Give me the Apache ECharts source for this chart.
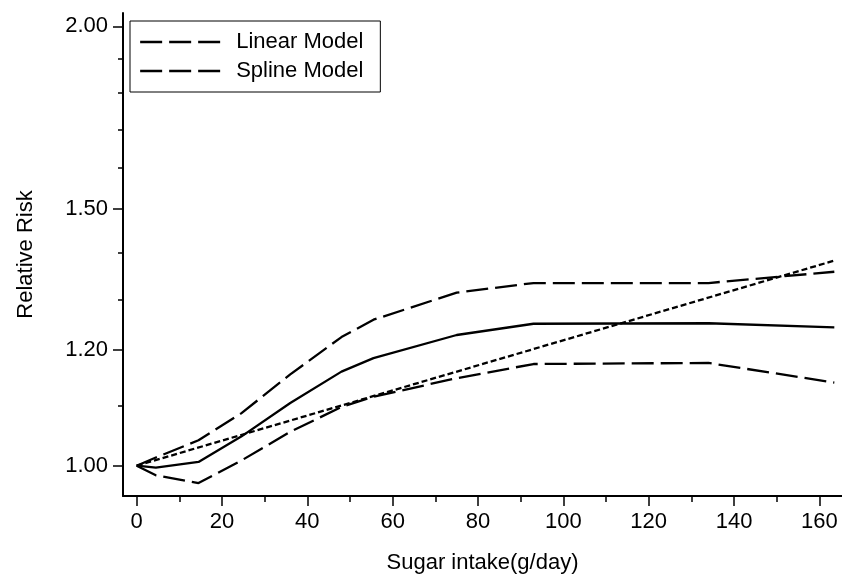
<!DOCTYPE html>
<html>
<head>
<meta charset="utf-8">
<script src="https://cdn.jsdelivr.net/npm/echarts@6/dist/echarts.min.js"></script>
<style>
html,body{margin:0;padding:0;background:#fff;}
#chart{width:842px;height:579px;}
</style>
</head>
<body>
<div id="chart"></div>
<script>
// Sugar intake (g/day) at which the spline model is evaluated
var splineX = [0, 4.5, 14.5, 24.5, 36, 48, 55.5, 75, 93, 134, 163.5];
// Spline model relative risk and its confidence limits
var splineRR = [1.000, 0.997, 1.006, 1.047, 1.104, 1.160, 1.185, 1.229, 1.251, 1.252, 1.244];
var upperCI  = [1.000, 1.013, 1.041, 1.086, 1.155, 1.225, 1.259, 1.314, 1.334, 1.334, 1.358];
var lowerCI  = [1.000, 0.985, 0.973, 1.008, 1.055, 1.097, 1.115, 1.148, 1.174, 1.176, 1.140];
// Linear model (straight on the log scale)
var linearX  = [0, 163.5];
var linearRR = [1.000, 1.382];
// Axis ticks
var xMajorTicks = [0, 20, 40, 60, 80, 100, 120, 140, 160];
var xMinorTicks = [10, 30, 50, 70, 90, 110, 130, 150];
var yMajorTicks = [1.00, 1.20, 1.50, 2.00];
var yMinorTicks = [1.1, 1.3, 1.4, 1.6, 1.7, 1.8, 1.9];
var legendNames = ['Linear Model', 'Spline Model'];

function pairs(xs, ys) { return xs.map(function (x, i) { return [x, ys[i]]; }); }

var FONT = 'Liberation Sans, Arial, sans-serif';
var FS = 22;
var X_MIN = -3.2, X_MAX = 165.3, Y_MIN = 0.9533, Y_MAX = 2.0426;
var LW = 2.3;
var longDash = [22, 7];
var shortDash = [6, 3];

var chart = echarts.init(document.getElementById('chart'), null, {renderer: 'canvas'});
chart.setOption({
  animation: false,
  backgroundColor: '#fff',
  textStyle: {fontFamily: FONT, color: '#000'},
  grid: {left: 123, top: 13, right: 0, bottom: 83, outerBoundsMode: 'none', containLabel: false},
  legend: {
    show: true,
    orient: 'vertical',
    left: 130, top: 21,
    padding: [10, 17, 10, 9],
    itemGap: 7,
    itemWidth: 83, itemHeight: 14,
    borderColor: '#000', borderWidth: 1,
    backgroundColor: '#fff',
    textStyle: {fontFamily: FONT, fontSize: FS, color: '#000', padding: [0, 0, 0, 8]},
    itemStyle: {color: 'rgba(0,0,0,0)', borderWidth: 0, opacity: 0},
    lineStyle: {type: longDash, width: LW, color: '#000', opacity: 1},
    data: legendNames
  },
  xAxis: [{
    type: 'value', position: 'bottom', min: X_MIN, max: X_MAX,
    name: 'Sugar intake(g/day)', nameLocation: 'middle', nameGap: 56,
    nameTextStyle: {fontFamily: FONT, fontSize: FS, color: '#000'},
    axisLine: {show: true, onZero: false, lineStyle: {color: '#000', width: 2}},
    axisTick: {show: true, length: 10, customValues: xMajorTicks, lineStyle: {color: '#000', width: 1.5}},
    axisLabel: {show: true, margin: 15, customValues: xMajorTicks, fontFamily: FONT, fontSize: FS, color: '#000',
      formatter: function (v) { return String(v); }},
    splitLine: {show: false}
  }, {
    type: 'value', position: 'bottom', min: X_MIN, max: X_MAX,
    axisLine: {show: false, onZero: false},
    axisTick: {show: true, length: 6, customValues: xMinorTicks, lineStyle: {color: '#000', width: 1.5}},
    axisLabel: {show: false},
    splitLine: {show: false}
  }],
  yAxis: [{
    type: 'log', position: 'left', min: Y_MIN, max: Y_MAX,
    name: 'Relative Risk', nameLocation: 'middle', nameGap: 86, nameRotate: 90,
    nameTextStyle: {fontFamily: FONT, fontSize: FS, color: '#000'},
    axisLine: {show: true, onZero: false, lineStyle: {color: '#000', width: 2}},
    axisTick: {show: true, length: 10, customValues: yMajorTicks, lineStyle: {color: '#000', width: 1.5}},
    axisLabel: {show: true, margin: 15, customValues: yMajorTicks, fontFamily: FONT, fontSize: FS, color: '#000',
      formatter: function (v) { return Number(v).toFixed(2); }},
    splitLine: {show: false}
  }, {
    type: 'log', position: 'left', min: Y_MIN, max: Y_MAX,
    axisLine: {show: false, onZero: false},
    axisTick: {show: true, length: 5, customValues: yMinorTicks, lineStyle: {color: '#000', width: 1.5}},
    axisLabel: {show: false},
    splitLine: {show: false}
  }],
  series: [{
    name: 'Linear Model', type: 'line', xAxisIndex: 0, yAxisIndex: 0,
    data: pairs(linearX, linearRR), symbol: 'none', showSymbol: false, silent: true,
    itemStyle: {color: '#000'},
    lineStyle: {color: '#000', width: LW, type: shortDash}
  }, {
    name: 'Spline Model', type: 'line', xAxisIndex: 0, yAxisIndex: 0,
    data: pairs(splineX, splineRR), symbol: 'none', showSymbol: false, silent: true,
    itemStyle: {color: '#000'},
    lineStyle: {color: '#000', width: LW, type: 'solid'}
  }, {
    name: 'Spline upper limit', type: 'line', xAxisIndex: 0, yAxisIndex: 0,
    data: pairs(splineX, upperCI), symbol: 'none', showSymbol: false, silent: true,
    itemStyle: {color: '#000'},
    lineStyle: {color: '#000', width: LW, type: longDash}
  }, {
    name: 'Spline lower limit', type: 'line', xAxisIndex: 0, yAxisIndex: 0,
    data: pairs(splineX, lowerCI), symbol: 'none', showSymbol: false, silent: true,
    itemStyle: {color: '#000'},
    lineStyle: {color: '#000', width: LW, type: longDash}
  }]
});
</script>
</body>
</html>
